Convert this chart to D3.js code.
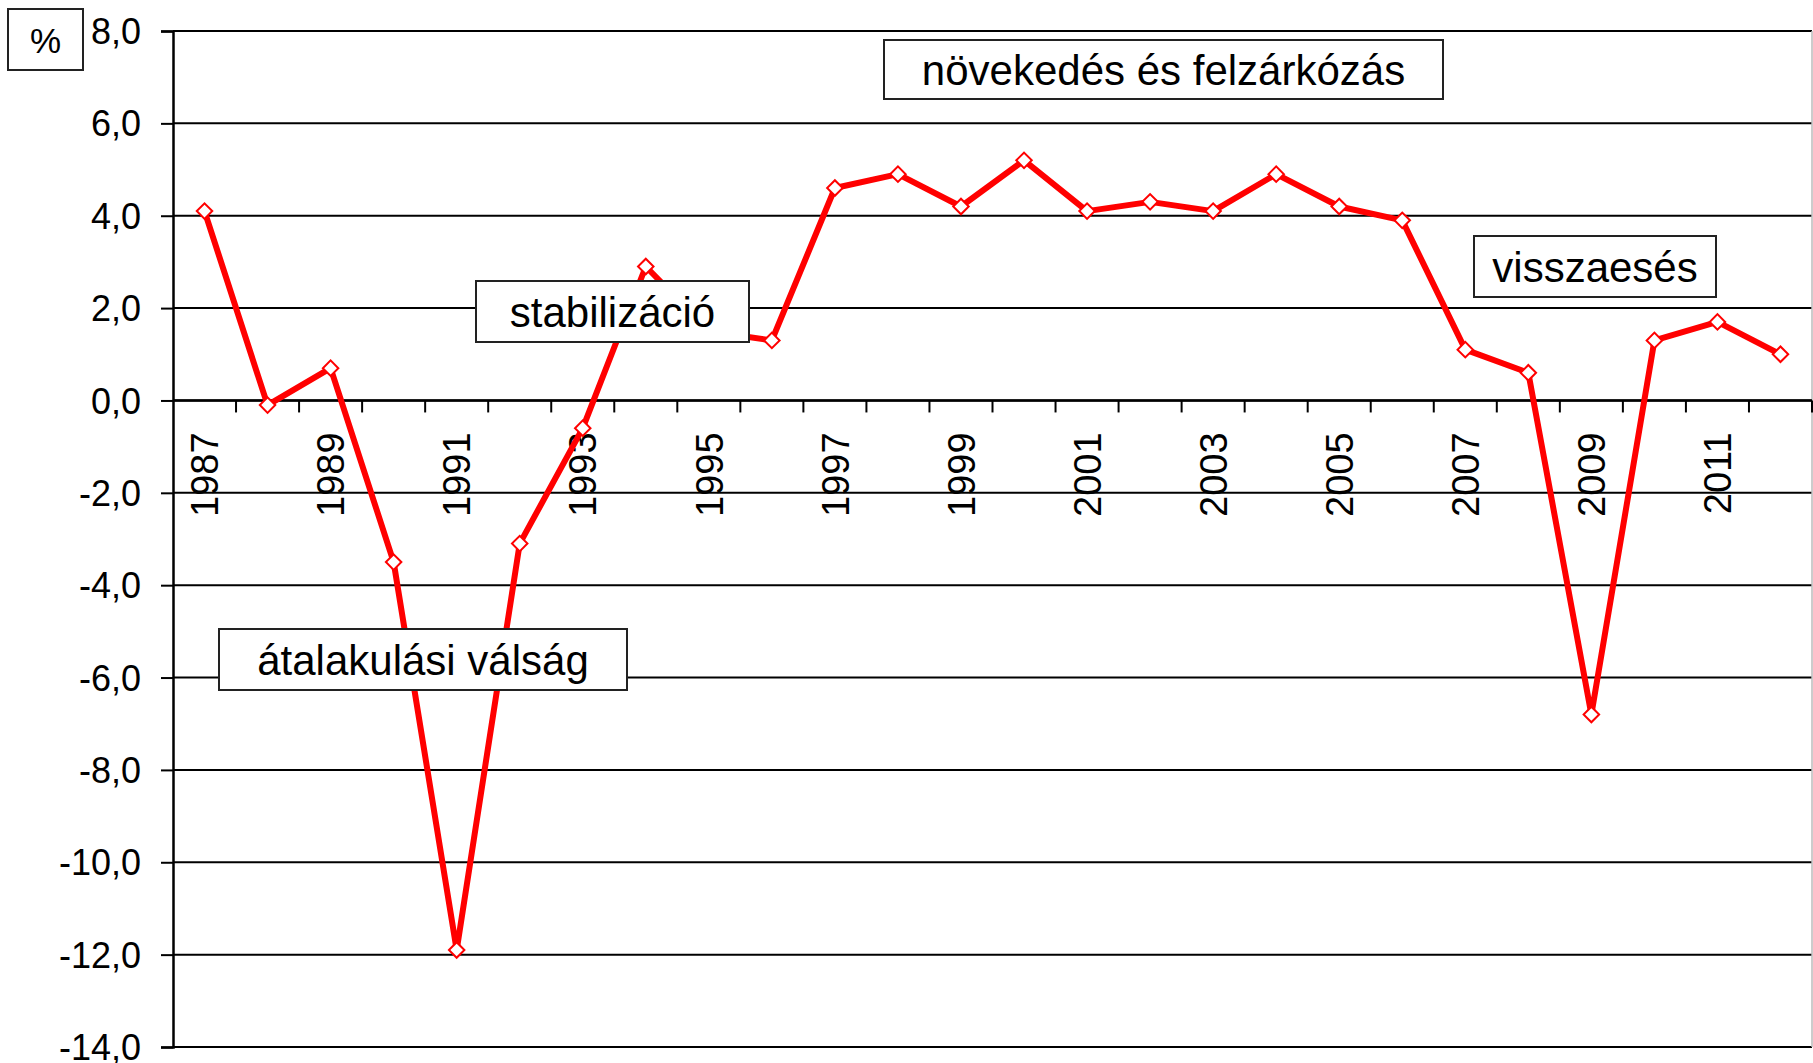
<!DOCTYPE html>
<html lang="hu">
<head>
<meta charset="UTF-8">
<title>GDP növekedés</title>
<script src="https://d3js.org/d3.v7.min.js"></script>
<style>
  html, body { margin: 0; padding: 0; background: #fff; }
  svg { display: block; font-family: "Liberation Sans", Arial, sans-serif; }
</style>
</head>
<body>
<svg id="chart" width="1813" height="1063"></svg>
<script>
// data
var years = [1987, 1988, 1989, 1990, 1991, 1992, 1993, 1994, 1995, 1996,
             1997, 1998, 1999, 2000, 2001, 2002, 2003, 2004, 2005, 2006,
             2007, 2008, 2009, 2010, 2011, 2012];
var growth = [4.1, -0.1, 0.7, -3.5, -11.9, -3.1, -0.6, 2.9, 1.5, 1.3,
              4.6, 4.9, 4.2, 5.2, 4.1, 4.3, 4.1, 4.9, 4.2, 3.9,
              1.1, 0.6, -6.8, 1.3, 1.7, 1.0];
var yTicks = [8, 6, 4, 2, 0, -2, -4, -6, -8, -10, -12, -14];
var yearLabels = [1987, 1989, 1991, 1993, 1995, 1997, 1999, 2001, 2003, 2005, 2007, 2009, 2011];
var unitLabel = "%";
var phaseNames = ["növekedés és felzárkózás", "stabilizáció", "visszaesés", "átalakulási válság"];

// layout (pixels)
var plotL = 173, plotR = 1812, plotT = 31, plotB = 1047;
var boxes = [
  {x0: 884, x1: 1443, y0: 40, y1: 99},
  {x0: 476, x1: 749, y0: 281, y1: 342},
  {x0: 1474, x1: 1716, y0: 236, y1: 297},
  {x0: 219, x1: 627, y0: 629, y1: 690}
];

var svg = d3.select("#chart");

var x = d3.scaleBand().domain(years).range([plotL, plotR]).padding(0);
var y = d3.scaleLinear().domain([-14, 8]).range([plotB, plotT]);

// horizontal grid lines
svg.append("g")
  .selectAll("line")
  .data(yTicks)
  .join("line")
  .attr("x1", plotL)
  .attr("x2", plotR)
  .attr("y1", function(d){ return y(d); })
  .attr("y2", function(d){ return y(d); })
  .attr("stroke", "#000")
  .attr("stroke-width", 2);

// right border of plot area
svg.append("line")
  .attr("x1", plotR).attr("x2", plotR)
  .attr("y1", plotT).attr("y2", plotB)
  .attr("stroke", "#bbb").attr("stroke-width", 1.5);

// y axis
var yAxis = d3.axisLeft(y)
  .tickValues(yTicks)
  .tickSize(12)
  .tickPadding(20)
  .tickFormat(function(d){ return d3.format(".1f")(d).replace(".", ",").replace("−", "-"); });

var gy = svg.append("g")
  .attr("transform", "translate(" + plotL + ",0)")
  .call(yAxis);
gy.select(".domain").attr("stroke", "#000").attr("stroke-width", 2.5);
gy.selectAll(".tick line").attr("stroke", "#000").attr("stroke-width", 2);
gy.selectAll(".tick text")
  .attr("font-size", 36)
  .attr("fill", "#000")
  .attr("font-family", "'Liberation Sans', Arial, sans-serif")
  .attr("dy", "0.35em");

// x axis on zero line, ticks between categories
var xAxisLine = svg.append("g");
xAxisLine.append("line")
  .attr("x1", plotL).attr("x2", plotR)
  .attr("y1", y(0)).attr("y2", y(0))
  .attr("stroke", "#000").attr("stroke-width", 2.5);
xAxisLine.selectAll("line.tick")
  .data(years)
  .join("line")
  .attr("class", "tick")
  .attr("x1", function(d){ return x(d) + x.bandwidth(); })
  .attr("x2", function(d){ return x(d) + x.bandwidth(); })
  .attr("y1", y(0))
  .attr("y2", y(0) + 12)
  .attr("stroke", "#000")
  .attr("stroke-width", 2);

xAxisLine.selectAll("text")
  .data(yearLabels)
  .join("text")
  .attr("transform", function(d){
    return "translate(" + (x(d) + x.bandwidth() / 2) + "," + (y(0) + 32) + ") rotate(-90)";
  })
  .attr("text-anchor", "end")
  .attr("dy", "0.36em")
  .attr("font-size", 38)
  .attr("fill", "#000")
  .text(function(d){ return d; });

// series line
var line = d3.line()
  .x(function(d, i){ return x(years[i]) + x.bandwidth() / 2; })
  .y(function(d){ return y(d); });

svg.append("path")
  .datum(growth)
  .attr("d", line)
  .attr("fill", "none")
  .attr("stroke", "#ff0000")
  .attr("stroke-width", 6)
  .attr("stroke-linejoin", "round");

// diamond markers
var diamond = d3.symbol().type(d3.symbolSquare).size(120);
svg.append("g")
  .selectAll("path")
  .data(growth)
  .join("path")
  .attr("d", diamond)
  .attr("transform", function(d, i){
    return "translate(" + (x(years[i]) + x.bandwidth() / 2) + "," + y(d) + ") rotate(45)";
  })
  .attr("fill", "#fff")
  .attr("stroke", "#ff0000")
  .attr("stroke-width", 2);

// phase annotation boxes
var notes = svg.append("g")
  .selectAll("g")
  .data(phaseNames)
  .join("g");
notes.append("rect")
  .attr("x", function(d, i){ return boxes[i].x0; })
  .attr("y", function(d, i){ return boxes[i].y0; })
  .attr("width", function(d, i){ return boxes[i].x1 - boxes[i].x0; })
  .attr("height", function(d, i){ return boxes[i].y1 - boxes[i].y0; })
  .attr("fill", "#fff")
  .attr("stroke", "#222")
  .attr("stroke-width", 2);
notes.append("text")
  .attr("x", function(d, i){ return (boxes[i].x0 + boxes[i].x1) / 2; })
  .attr("y", function(d, i){ return (boxes[i].y0 + boxes[i].y1) / 2; })
  .attr("dy", "0.36em")
  .attr("text-anchor", "middle")
  .attr("font-size", 42)
  .attr("fill", "#000")
  .text(function(d){ return d; });

// unit box
svg.append("rect")
  .attr("x", 8).attr("y", 9)
  .attr("width", 75).attr("height", 61)
  .attr("fill", "#fff")
  .attr("stroke", "#222")
  .attr("stroke-width", 2);
svg.append("text")
  .attr("x", 45.5).attr("y", 40)
  .attr("dy", "0.36em")
  .attr("text-anchor", "middle")
  .attr("font-size", 35)
  .attr("fill", "#000")
  .text(unitLabel);
</script>
</body>
</html>
